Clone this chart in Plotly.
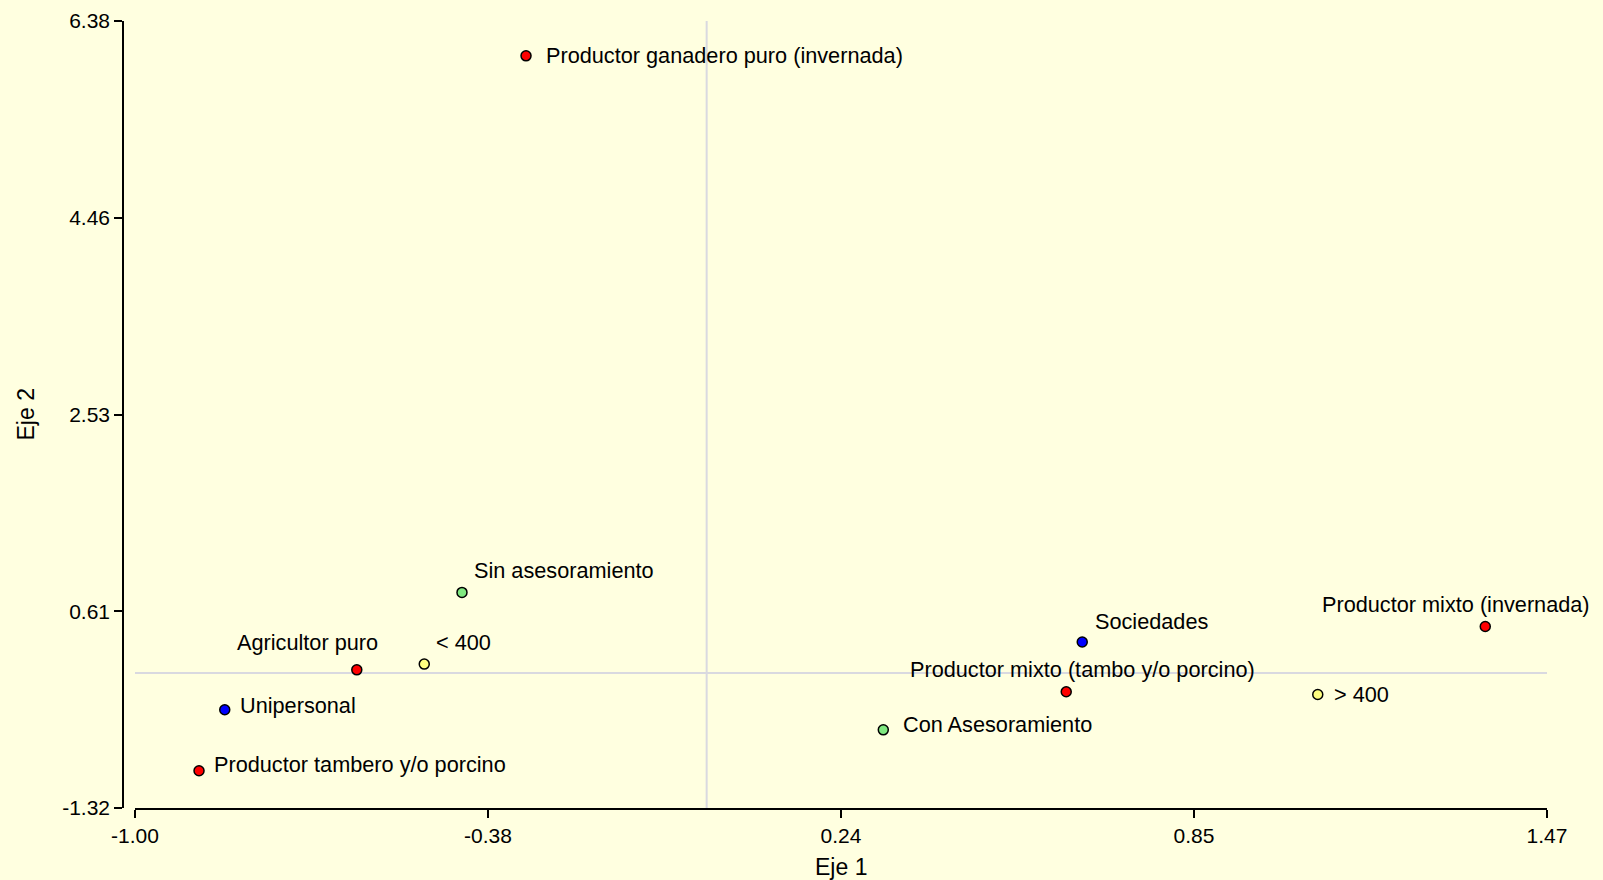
import plotly.graph_objects as go

# Coordenadas de las categorías sobre Eje 1 / Eje 2
labels = [
    "Productor ganadero puro (invernada)",
    "Productor mixto (invernada)",
    "Productor mixto (tambo y/o porcino)",
    "Agricultor puro",
    "Productor tambero y/o porcino",
    "Sociedades",
    "Unipersonal",
    "Sin asesoramiento",
    "Con Asesoramiento",
    "< 400",
    "> 400",
]
eje1 = [-0.316, 1.362, 0.629, -0.612, -0.888, 0.657, -0.843, -0.428, 0.309, -0.494, 1.069]
eje2 = [6.039, 0.456, -0.183, 0.032, -0.956, 0.304, -0.359, 0.789, -0.555, 0.088, -0.210]
grupo = ["tipo", "tipo", "tipo", "tipo", "tipo", "forma", "forma", "ases", "ases", "sup", "sup"]

x_ticks = [-1.00, -0.3825, 0.235, 0.8525, 1.47]
x_ticktext = ["-1.00", "-0.38", "0.24", "0.85", "1.47"]
y_ticks = [-1.32, 0.605, 2.53, 4.455, 6.38]
y_ticktext = ["-1.32", "0.61", "2.53", "4.46", "6.38"]

colores = {"tipo": "#FF0000", "forma": "#0000FF", "ases": "#80E880", "sup": "#FFFF80"}

# posición de cada etiqueta respecto de su punto: (xanchor, xshift, yshift)
etiq = {
    "Productor ganadero puro (invernada)": ("left", 18, 0),
    "Productor mixto (invernada)": ("center", -29, 22),
    "Productor mixto (tambo y/o porcino)": ("center", 16, 22),
    "Agricultor puro": ("center", -49, 27),
    "Productor tambero y/o porcino": ("left", 13, 6),
    "Sociedades": ("left", 11, 21),
    "Unipersonal": ("left", 13, 4),
    "Sin asesoramiento": ("left", 10, 22),
    "Con Asesoramiento": ("left", 18, 5),
    "< 400": ("left", 10, 22),
    "> 400": ("left", 14, 0),
}

fondo = "#FFFFE0"
fuente = "Liberation Sans, Arial, sans-serif"

fig = go.Figure()

# lineas de referencia en 0
fig.add_shape(type="line", x0=0, x1=0, y0=y_ticks[0], y1=y_ticks[-1], xref="x", yref="y",
              line=dict(color="#D9D9E0", width=2), layer="below")
fig.add_shape(type="line", x0=x_ticks[0], x1=x_ticks[-1], y0=0, y1=0, xref="x", yref="y",
              line=dict(color="#D9D9E0", width=2), layer="below")

fig.add_trace(go.Scatter(
    x=eje1, y=eje2, mode="markers",
    marker=dict(size=10, color=[colores[g] for g in grupo], line=dict(color="black", width=1.5)),
    hovertext=labels, hoverinfo="text", showlegend=False,
))

for lab, xv, yv in zip(labels, eje1, eje2):
    anc, dx, dy = etiq[lab]
    fig.add_annotation(x=xv, y=yv, text=lab, showarrow=False, xanchor=anc, yanchor="middle",
                       xshift=dx, yshift=dy, font=dict(size=21.7, color="black", family=fuente))

W, H = 1603, 880
ml, mr, mt, mb = 123, 56, 21, 72
x0_dom = 12 / (W - ml - mr)

# titulos de los ejes
fig.add_annotation(text="Eje 1", xref="paper", yref="paper", x=(x0_dom + 1) / 2, y=0,
                   yshift=-59, xanchor="center", yanchor="middle", showarrow=False,
                   font=dict(size=23, family=fuente, color="black"))
fig.add_annotation(text="Eje 2", xref="paper", yref="paper", x=0, y=0.5,
                   xshift=-98, xanchor="center", yanchor="middle", textangle=-90, showarrow=False,
                   font=dict(size=23, family=fuente, color="black"))

fig.update_layout(
    width=W, height=H,
    margin=dict(l=ml, r=mr, t=mt, b=mb),
    paper_bgcolor=fondo, plot_bgcolor=fondo,
    font=dict(family=fuente, size=21, color="black"),
    xaxis=dict(
        domain=[x0_dom, 1],
        range=[x_ticks[0], x_ticks[-1]],
        tickvals=x_ticks, ticktext=x_ticktext,
        showgrid=False, zeroline=False, automargin=False,
        showline=True, linecolor="black", linewidth=1.5,
        ticks="outside", ticklen=8, tickwidth=1.5, tickcolor="black",
    ),
    yaxis=dict(
        anchor="free", position=0,
        range=[y_ticks[0], y_ticks[-1]],
        tickvals=y_ticks, ticktext=y_ticktext,
        showgrid=False, zeroline=False, automargin=False,
        showline=True, linecolor="black", linewidth=1.5,
        ticks="outside", ticklen=8, tickwidth=1.5, tickcolor="black",
    ),
)

fig.write_html("out.html", config={"displayModeBar": False},
               post_script="document.body.style.margin='0px';"
               "document.body.style.background='" + fondo + "';")
